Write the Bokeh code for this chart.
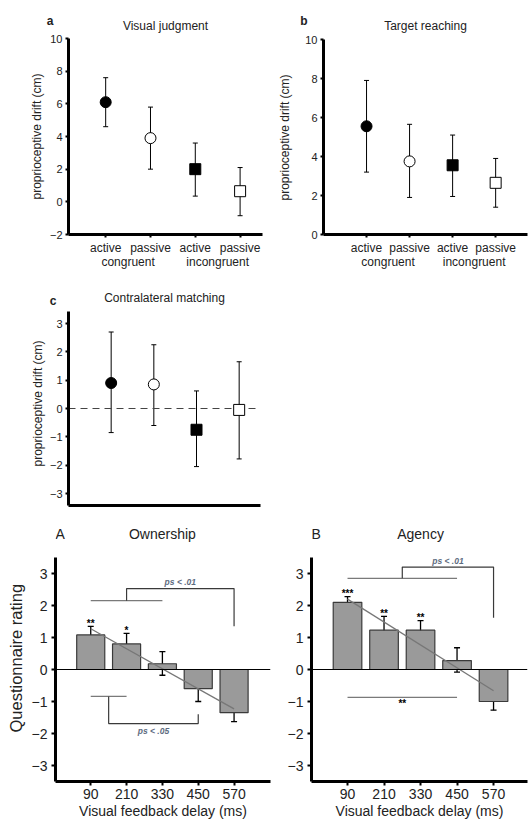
import numpy as np
from bokeh.plotting import figure
from bokeh.models import (ColumnDataSource, Whisker, TeeHead, Span, Title,
                          LinearAxis, FixedTicker)
from bokeh.layouts import column, row
from bokeh.embed import file_html
from bokeh.resources import INLINE
from bokeh.core.properties import value

# ---------------- data ----------------
conditions = ["active", "passive", "active", "passive"]
groups = ["congruent", "incongruent"]

visual_mean = [6.1, 3.9, 2.0, 0.65]
visual_lo = [4.6, 2.0, 0.35, -0.85]
visual_hi = [7.6, 5.8, 3.6, 2.1]

reach_mean = [5.55, 3.75, 3.55, 2.65]
reach_lo = [3.2, 1.9, 1.95, 1.4]
reach_hi = [7.9, 5.65, 5.1, 3.9]

contra_mean = [0.9, 0.85, -0.75, -0.05]
contra_lo = [-0.85, -0.6, -2.05, -1.78]
contra_hi = [2.7, 2.25, 0.62, 1.65]

delays = [90, 210, 330, 450, 570]
own_mean = [1.08, 0.8, 0.18, -0.6, -1.35]
own_lo = [0.82, 0.45, -0.18, -1.0, -1.63]
own_hi = [1.35, 1.13, 0.56, -0.22, -1.03]
own_stars = ["**", "*", "", "", ""]

agency_mean = [2.1, 1.23, 1.23, 0.28, -1.0]
agency_lo = [1.95, 0.87, 0.9, -0.08, -1.27]
agency_hi = [2.28, 1.66, 1.53, 0.68, -0.7]
agency_stars = ["***", "**", "**", "", ""]

# significance brackets (delay positions, rating levels)
own_lines_x = [[90, 330], [90, 210]]
own_lines_y = [[2.15, 2.15], [-0.84, -0.84]]
own_brk_x = [[210, 210, 570, 570], [150, 150, 450, 450]]
own_brk_y = [[2.15, 2.53, 2.53, 1.35], [-0.84, -1.69, -1.69, -1.4]]
own_notes = ["ps < .01", "ps < .05"]
own_notes_x = [390, 300]
own_notes_y = [2.72, -1.93]

agency_lines_x = [[90, 450], [90, 450]]
agency_lines_y = [[2.85, 2.85], [-0.87, -0.87]]
agency_brk_x = [[270, 270, 570, 570]]
agency_brk_y = [[2.85, 3.2, 3.2, 1.62]]
agency_notes = ["ps < .01"]
agency_notes_x = [420]
agency_notes_y = [3.38]
agency_extra_star = ["**"]
agency_extra_star_x = [270]
agency_extra_star_y = [-1.05]

FONT = "Liberation Sans"
TXT = "#222222"


def style_axis(ax, size, tick_out=3, standoff=3, width=3):
    ax.axis_line_width = width
    ax.axis_line_color = "black"
    ax.major_tick_out = tick_out
    ax.major_tick_in = 0
    ax.major_tick_line_width = 2
    ax.major_tick_line_color = "black"
    ax.minor_tick_line_color = None
    ax.major_label_text_font = FONT
    ax.major_label_text_font_size = size
    ax.major_label_text_color = TXT
    ax.major_label_standoff = standoff
    ax.axis_label_text_font = FONT
    ax.axis_label_text_font_style = "normal"
    ax.axis_label_text_color = TXT


def yspan(v_lo, p_lo, v_hi, p_hi, frame_top, frame_bottom):
    """data range of a frame, from two known tick values at page rows"""
    k = (v_hi - v_lo) / (p_lo - p_hi)
    return (v_lo - (frame_bottom - p_lo) * k, v_lo + (p_lo - frame_top) * k), k


def left_title(p, text, size, offset, standoff):
    p.add_layout(Title(text=text, align="left", offset=offset, standoff=standoff,
                       text_font=FONT, text_font_size=size, text_font_style="normal",
                       text_color=TXT), "left")


def text_at(p, x, y, text, size, style="normal", align="center", x_offset=0):
    p.text(x=[x], y=[y], text=[text], text_font=value(FONT), text_font_size=size,
           text_font_style=style, text_align=align, text_baseline="middle",
           text_color=TXT, x_offset=x_offset)


def drift_panel(mean, lo, hi, width, height, xr, yr, bounds, borders, yticks,
                title, title_y, letter, letter_y, letter_standoff,
                label_offset, label_standoff, xlabels=True):
    bl, br, bt, bb = borders
    p = figure(width=width, height=height, x_range=xr, y_range=yr,
               output_backend="svg", toolbar_location=None,
               min_border_left=bl, min_border_right=br,
               min_border_top=bt, min_border_bottom=bb)
    p.outline_line_color = None
    p.grid.visible = False

    style_axis(p.yaxis[0], "11px", tick_out=3, standoff=3)
    p.yaxis.ticker = FixedTicker(ticks=yticks)
    p.yaxis.bounds = bounds
    p.yaxis.major_label_overrides = {t: ("\u2212" + str(-t)) for t in yticks if t < 0}

    la = LinearAxis(ticker=FixedTicker(ticks=[letter_y]),
                    major_label_overrides={letter_y: letter},
                    axis_line_color=None, major_tick_line_color=None,
                    major_tick_out=0, major_tick_in=0,
                    minor_tick_line_color=None, minor_tick_out=0, minor_tick_in=0,
                    major_label_standoff=letter_standoff,
                    major_label_text_font=FONT, major_label_text_font_size="12px",
                    major_label_text_font_style="bold", major_label_text_color=TXT)
    p.add_layout(la, "left")
    left_title(p, "proprioceptive drift (cm)", "12px", label_offset, label_standoff)

    style_axis(p.xaxis[0], "12px", tick_out=3, standoff=3)
    if xlabels:
        p.xaxis.ticker = FixedTicker(ticks=[1, 2, 3, 4])
        p.xaxis.major_label_overrides = {i + 1: c for i, c in enumerate(conditions)}
        ga = LinearAxis(ticker=FixedTicker(ticks=[1.5, 3.5]),
                        major_label_overrides={1.5: groups[0], 3.5: groups[1]},
                        axis_line_color=None, major_tick_line_color=None,
                        minor_tick_line_color=None, major_label_standoff=-9,
                        major_label_text_font=FONT, major_label_text_font_size="12px",
                        major_label_text_color=TXT)
        p.add_layout(ga, "below")
    else:
        p.xaxis.ticker = FixedTicker(ticks=[])
        p.xaxis.major_tick_line_color = None

    src = ColumnDataSource(dict(x=[1, 2, 3, 4], mean=mean, lo=lo, hi=hi,
                                marker=["circle", "circle", "square", "square"],
                                fill=["black", "white", "black", "white"]))
    w = Whisker(base="x", lower="lo", upper="hi", source=src, line_width=1,
                line_color="black", level="underlay",
                upper_head=TeeHead(size=5, line_width=1, line_color="black"),
                lower_head=TeeHead(size=5, line_width=1, line_color="black"))
    p.add_layout(w)
    p.scatter("x", "mean", source=src, marker="marker", fill_color="fill",
              line_color="black", line_width=1, size=11)

    text_at(p, (xr[0] + xr[1]) / 2.0, title_y, title, "12px")
    return p


# panel a: -2 at row 234, 10 at row 38; frame rows 12..234
ya, ka = yspan(-2, 234, 10, 38, 12, 234)
pa = drift_panel(visual_mean, visual_lo, visual_hi, 264, 280, (0.17, 4.5), ya, (-2, 10),
                 (68, 2, 12, 46), [-2, 0, 2, 4, 6, 8, 10],
                 "Visual judgment", 10 + 13 * ka, "a", 10 + 18 * ka, -7, 35, 0)
# panel b: 0 at row 234, 10 at row 39; frame rows 12..234
yb, kb = yspan(0, 234, 10, 39, 12, 234)
pb = drift_panel(reach_mean, reach_lo, reach_hi, 264, 280, (0.0, 4.74), yb, (0, 10),
                 (59, 1, 12, 46), [0, 2, 4, 6, 8, 10],
                 "Target reaching", 10 + 14 * kb, "b", 10 + 19 * kb, -5, 34, 11)
# panel c: -3 at row 493, 3 at row 323; frame rows 288..505
yc, kc = yspan(-3, 493, 3, 323, 288, 505)
pc = drift_panel(contra_mean, contra_lo, contra_hi, 264, 230, (0.0, 4.5), yc,
                 (yc[0], 3 + 12 * kc), (68, 4, 8, 5), [-3, -2, -1, 0, 1, 2, 3],
                 "Contralateral matching", 3 + 26 * kc, "c", 3 + 23 * kc, -10, 39, 4,
                 xlabels=False)
pc.add_layout(Span(location=0, dimension="width", line_color="#444444",
                   line_width=1, line_dash="7 5", level="underlay"))


def bar_panel(mean, lo, hi, stars, width, borders, xr, yr, k, title, letter,
              ylabel=None, lines_x=(), lines_y=(), brk_x=(), brk_y=(),
              notes=(), notes_x=(), notes_y=()):
    bl, br, bt, bb = borders
    p = figure(width=width, height=311, x_range=xr, y_range=yr,
               output_backend="svg", toolbar_location=None,
               min_border_left=bl, min_border_right=br,
               min_border_top=bt, min_border_bottom=bb)
    p.outline_line_color = None
    p.grid.visible = False

    style_axis(p.yaxis[0], "14px", tick_out=4, standoff=4)
    p.yaxis.ticker = FixedTicker(ticks=[-3, -2, -1, 0, 1, 2, 3])
    p.yaxis.bounds = (-3.5, 3.5)
    if ylabel:
        left_title(p, ylabel, "16.5px", 49, 8)
    style_axis(p.xaxis[0], "14px", tick_out=4, standoff=3)
    p.xaxis.ticker = FixedTicker(ticks=delays)
    p.xaxis.axis_label = "Visual feedback delay (ms)"
    p.xaxis.axis_label_text_font_size = "14px"
    p.xaxis.axis_label_standoff = 1

    p.add_layout(Span(location=0, dimension="width", line_color="black",
                      line_width=1))
    p.vbar(x=delays, top=mean, width=94, fill_color="#9a9a9a",
           line_color="#3a3a3a", line_width=1.2)

    slope, icpt = np.polyfit(delays, mean, 1)
    ends = [delays[0], delays[-1]]
    p.line(ends, [slope * e + icpt for e in ends], line_color="#777777", line_width=1.3)

    src = ColumnDataSource(dict(x=delays, lo=lo, hi=hi, stars=stars))
    p.add_layout(Whisker(base="x", lower="lo", upper="hi", source=src,
                         line_width=1.3, line_color="black",
                         upper_head=TeeHead(size=6, line_width=1.3, line_color="black"),
                         lower_head=TeeHead(size=6, line_width=1.3, line_color="black")))
    p.text(x="x", y="hi", text="stars", source=src, text_font=value(FONT),
           text_font_size="10px", text_font_style="bold", text_align="center",
           text_baseline="middle", text_color="black", y_offset=-3)

    for xs, ys in zip(lines_x, lines_y):
        p.line(xs, ys, line_color="#7a7a7a", line_width=1.3)
    for xs, ys in zip(brk_x, brk_y):
        p.line(xs, ys, line_color="#3a3a3a", line_width=1.2)
    if notes:
        p.text(x=list(notes_x), y=list(notes_y), text=list(notes), text_font=value(FONT),
               text_font_size="8.5px", text_font_style="bold italic",
               text_align="center", text_baseline="middle", text_color="#5d6b80")

    ty = 3.5 + 24 * k
    text_at(p, delays[2], ty, title, "14px")
    text_at(p, xr[0], ty, letter, "14px", align="left", x_offset=0)
    return p


# bars: -3 at row 765, 3 at row 573; frame rows 522..781
yA, kA = yspan(-3, 765, 3, 573, 522, 781)
pA = bar_panel(own_mean, own_lo, own_hi, own_stars, 272, (51, 2, 12, 40), (-28, 692),
               yA, kA, "Ownership", "A", ylabel="Questionnaire rating",
               lines_x=own_lines_x, lines_y=own_lines_y,
               brk_x=own_brk_x, brk_y=own_brk_y,
               notes=own_notes, notes_x=own_notes_x, notes_y=own_notes_y)
pB = bar_panel(agency_mean, agency_lo, agency_hi, agency_stars, 256, (39, 1, 12, 40),
               (-28.4, 681.6), yA, kA, "Agency", "B",
               lines_x=agency_lines_x, lines_y=agency_lines_y,
               brk_x=agency_brk_x, brk_y=agency_brk_y,
               notes=agency_notes, notes_x=agency_notes_x, notes_y=agency_notes_y)
pB.text(x=agency_extra_star_x, y=agency_extra_star_y, text=agency_extra_star,
        text_font=value(FONT), text_font_size="10px", text_font_style="bold",
        text_align="center", text_baseline="middle", text_color="black")

layout = column(row(pa, pb), pc, row(pA, pB))
open("out.html", "w").write(file_html(layout, INLINE))
